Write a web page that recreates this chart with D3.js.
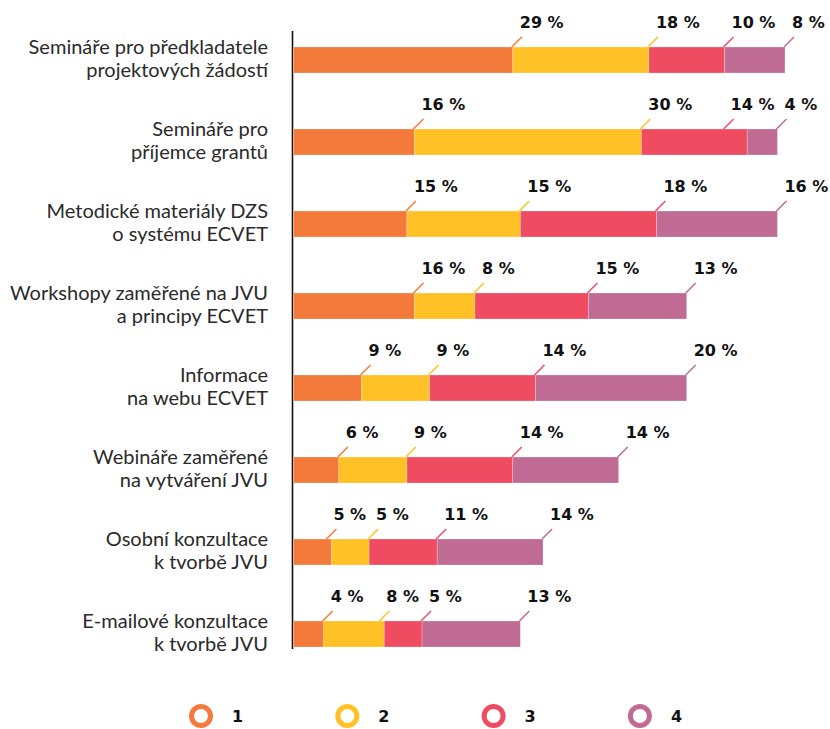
<!DOCTYPE html>
<html>
<head>
<meta charset="utf-8">
<script src="https://cdn.jsdelivr.net/npm/d3@7"></script>
<style>
  body { margin: 0; background: #fff; }
</style>
</head>
<body>
<svg id="chart" width="830" height="729"></svg>
<script>
const categories = [
  ['Semináře pro předkladatele', 'projektových žádostí'],
  ['Semináře pro', 'příjemce grantů'],
  ['Metodické materiály DZS', 'o systému ECVET'],
  ['Workshopy zaměřené na JVU', 'a principy ECVET'],
  ['Informace', 'na webu ECVET'],
  ['Webináře zaměřené', 'na vytváření JVU'],
  ['Osobní konzultace', 'k tvorbě JVU'],
  ['E-mailové konzultace', 'k tvorbě JVU']
]
const seriesNames = ['1', '2', '3', '4']
// bar lengths as drawn in the picture
const s1 = [29, 16, 15, 16, 9, 6, 5, 4]
const s2 = [18, 30, 15, 8, 9, 9, 5, 8]
const s3 = [10, 14, 18, 15, 14, 14, 9, 5]
const s4 = [8, 4, 16, 13, 20, 14, 14, 13]
// printed value labels (row 7, series 3 is printed as 11 %)
const l1 = ['29 %', '16 %', '15 %', '16 %', '9 %', '6 %', '5 %', '4 %']
const l2 = ['18 %', '30 %', '15 %', '8 %', '9 %', '9 %', '5 %', '8 %']
const l3 = ['10 %', '14 %', '18 %', '15 %', '14 %', '14 %', '11 %', '5 %']
const l4 = ['8 %', '4 %', '16 %', '13 %', '20 %', '14 %', '14 %', '13 %']
const colors = ['#f47a3c', '#ffc125', '#ef4c62', '#c06b94']

const labelSets = [l1, l2, l3, l4]
const svg = d3.select('#chart')

const table = categories.map((c, i) => ({ s0: s1[i], s1: s2[i], s2: s3[i], s3: s4[i] }))
const stack = d3.stack().keys(['s0', 's1', 's2', 's3'])(table)

const x = d3.scaleLinear().domain([0, 65]).range([293.5, 785])
const y = d3.scaleBand().domain(d3.range(categories.length))
  .range([19, 675]).paddingInner(56 / 82).paddingOuter(28 / 82)

// vertical axis line
svg.append('line')
  .attr('x1', 292.5).attr('x2', 292.5)
  .attr('y1', 31).attr('y2', 649)
  .attr('stroke', '#111')
  .attr('stroke-width', 1.6)

// segments
const layers = svg.append('g').selectAll('g')
  .data(stack)
  .enter().append('g')
  .attr('fill', (d, i) => colors[i])

layers.selectAll('rect')
  .data(d => d)
  .enter().append('rect')
  .attr('x', d => x(d[0]))
  .attr('y', (d, i) => y(i))
  .attr('width', d => x(d[1]) - x(d[0]))
  .attr('height', y.bandwidth())
  .attr('stroke', 'rgba(255,255,255,0.4)')
  .attr('stroke-width', 0.6)

// callout label positions, pushed left when they would collide
const font = 'bold 16px "DejaVu Sans"'
const ctx = document.createElement('canvas').getContext('2d')
ctx.font = font
const callouts = []
categories.forEach((c, i) => {
  let row = stack.map((layer, li) => {
    const text = labelSets[li][i]
    const end = x(layer[i][1])
    return { li, i, text, end, tx: end + 7, w: ctx.measureText(text).width }
  })
  for (let k = row.length - 2; k >= 0; k--) {
    const next = row[k + 1]
    if (row[k].tx + row[k].w + 10 > next.tx) row[k].tx = next.tx - 10 - row[k].w
  }
  row.forEach(r => {
    r.x1 = Math.min(r.end - 1, r.tx - 7)
    callouts.push(r)
  })
})

const calloutG = svg.append('g')
calloutG.selectAll('line')
  .data(callouts)
  .enter().append('line')
  .attr('x1', d => d.x1)
  .attr('y1', d => y(d.i))
  .attr('x2', d => d.x1 + 10)
  .attr('y2', d => y(d.i) - 10)
  .attr('stroke', d => colors[d.li])
  .attr('stroke-width', 1.5)

calloutG.selectAll('text')
  .data(callouts)
  .enter().append('text')
  .attr('x', d => d.tx)
  .attr('y', d => y(d.i) - 19)
  .attr('fill', '#111')
  .style('font', font)
  .text(d => d.text)

// category labels
const labels = svg.append('g').selectAll('text')
  .data(categories)
  .enter().append('text')
  .attr('text-anchor', 'end')
  .attr('fill', '#2a2a2a')
  .style('font-family', 'Lato, sans-serif')
  .style('font-size', '20px')

labels.each(function (c, i) {
  const cy = y(i) + y.bandwidth() / 2
  d3.select(this).selectAll('tspan')
    .data(c)
    .enter().append('tspan')
    .attr('x', 268)
    .attr('y', (d, j) => cy - 6 + j * 22.5)
    .text(d => d)
})

// legend
const legend = svg.append('g').selectAll('g')
  .data(seriesNames)
  .enter().append('g')
  .attr('transform', (d, i) => `translate(${201 + i * 146.3}, 716)`)

legend.append('circle')
  .attr('r', 9.5)
  .attr('fill', 'none')
  .attr('stroke', (d, i) => colors[i])
  .attr('stroke-width', 5)

legend.append('text')
  .attr('x', 31)
  .attr('y', 6)
  .attr('fill', '#111')
  .style('font', font)
  .text(d => d)
</script>
</body>
</html>
